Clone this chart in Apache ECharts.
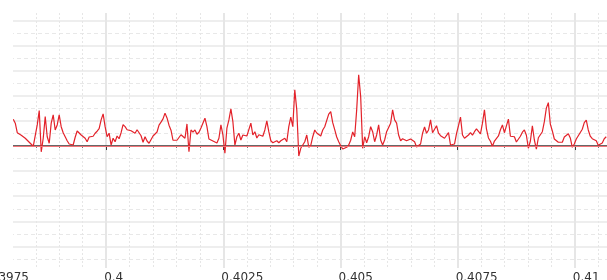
<!DOCTYPE html>
<html>
<head>
<meta charset="utf-8">
<script src="https://cdn.jsdelivr.net/npm/echarts@6/dist/echarts.min.js"></script>
<style>
  html, body { margin: 0; padding: 0; background: #fff; }
  #chart { width: 607px; height: 280px; }
</style>
</head>
<body>
<div id="chart"></div>
<script>
// sampling grid of the trace (x axis units)
const xStart = 0.398018
const xStep = 0.0000426

// trace values, one per sample
const signalValues = [
  1.07, 0.91, 0.53, 0.53, 0.43, 0.39, 0.31, 0.23, 0.15, 0.07,
  -0.01, -0.08, 0.84, 1.41, -0.23, 0.31, 1.17, 0.37, 0.11, 0.91,
  1.24, 0.64, 0.84, 1.24, 0.77, 0.53, 0.37, 0.21, 0.08, 0.01,
  0.04, 0.35, 0.60, 0.59, 0.44, 0.47, 0.31, 0.17, 0.36, 0.39,
  0.39, 0.51, 0.59, 0.69, 1.04, 1.28, 0.77, 0.37, 0.51, 0.04,
  0.31, 0.17, 0.40, 0.29, 0.53, 0.85, 0.77, 0.65, 0.64, 0.61,
  0.64, 0.51, 0.65, 0.67, 0.41, 0.15, 0.37, 0.20, 0.11, 0.16,
  0.40, 0.37, 0.56, 0.83, 0.95, 1.08, 1.31, 1.12, 0.83, 0.63,
  0.23, 0.17, 0.23, 0.25, 0.45, 0.45, 0.31, 0.88, -0.23, 0.64,
  0.55, 0.64, 0.47, 0.55,
  0.72, 0.72, 1.11, 0.77, 0.28, 0.28, 0.20, 0.17, 0.12, 0.31,
  0.84, 0.44, -0.29, 0.71, 1.04, 1.48, 0.97, 0.04, 0.37, 0.51,
  0.24, 0.44, 0.51, 0.40, 0.44, 0.91, 0.44, 0.57, 0.32, 0.45,
  0.49, 0.39, 0.64, 1.00, 0.57, 0.21, 0.13, 0.17, 0.21, 0.13,
  0.21, 0.19, 0.31, 0.17, 0.77, 1.15, 0.77, 2.24, 1.44, -0.40,
  -0.09, -0.08, 0.17, 0.44, -0.05, 0.03, 0.37, 0.64, 0.52, 0.52,
  0.40, 0.64, 0.77, 0.73, 1.27, 1.37, 0.93, 0.65, 0.36, 0.17,
  0.01, -0.12, -0.15, -0.05, 0.04, 0.23, 0.56, 0.37, 1.44, 2.84,
  1.97, -0.09, 0.37, 0.13, 0.37, 0.77, 0.57, 0.17, 0.44, 0.84,
  0.24, 0.04, 0.24, 0.57, 0.51, 0.91, 1.44, 1.04, 0.91, 0.44,
  0.21, 0.29, 0.24, 0.21, 0.25, 0.28, 0.27, 0.17, -0.04, -0.08,
  0.08, 0.51, 0.76, 0.51, 0.64, 1.04, 0.53, 0.51, 0.81, 0.51,
  0.41, 0.40, 0.31, 0.28, 0.53, 0.04, 0.08, 0.08, 0.49, 0.81,
  1.15, 0.44, 0.31, 0.37, 0.44, 0.53, 0.43, 0.57, 0.68, 0.69,
  0.48, 0.91, 1.44, 0.68, 0.32, 0.19, -0.01, 0.20, 0.20, 0.40,
  0.65, 0.84, 0.53, 0.80, 1.07, 0.39, 0.40, 0.37, 0.16, 0.20,
  0.39, 0.55, 0.64, 0.43, -0.09, 0.20, 0.80, 0.24, -0.12, 0.33,
  0.35, 0.57, 0.97, 1.51, 1.73, 0.87, 0.60, 0.28, 0.23, 0.15,
  0.21, 0.15, 0.36, 0.29, 0.49, 0.32, -0.05, 0.08, 0.28, 0.41,
  0.48, 0.67, 0.93, 1.03, 0.64, 0.39, 0.29, 0.25, 0.21, 0.03,
  0.03, 0.12, 0.29, 0.37
]

const baselineValue = 0

// axis ranges
const xMin = 0.3975
const xMax = 0.4125
const xInterval = 0.0025
const yMin = -4.86
const yMax = 5.3

const tracePoints = signalValues.map((value, index) => [xStart + index * xStep, value])

const chart = echarts.init(document.getElementById('chart'))

chart.setOption({
  animation: false,
  backgroundColor: '#fff',
  grid: {
    left: -11,
    right: -85,
    top: 13,
    bottom: 12,
    outerBoundsMode: 'none'
  },
  xAxis: {
    type: 'value',
    min: xMin,
    max: xMax,
    interval: xInterval,
    axisLine: {
      lineStyle: { color: '#3a3a3a', width: 1.5 }
    },
    axisTick: {
      length: 4,
      lineStyle: { color: '#3a3a3a' }
    },
    minorTick: {
      show: true,
      splitNumber: 5,
      length: 2,
      lineStyle: { color: '#777' }
    },
    axisLabel: {
      align: 'left',
      margin: 4,
      fontSize: 12,
      fontFamily: 'DejaVu Sans',
      color: '#333',
      padding: [0, 0, 0, -2]
    },
    splitLine: {
      lineStyle: { color: '#e6e6e6', width: 2 }
    },
    minorSplitLine: {
      show: true,
      lineStyle: { color: '#e6e6e6', width: 1, type: [2, 2] }
    }
  },
  yAxis: [
    {
      type: 'value',
      min: yMin,
      max: yMax,
      splitNumber: 10,
      axisLine: { show: false },
      axisTick: { show: false },
      axisLabel: { show: false },
      splitLine: {
        showMinLine: false,
        showMaxLine: false,
        lineStyle: { color: '#e8e8e8', width: 1.5 }
      }
    },
    {
      // only draws the dashed half-step lines
      type: 'value',
      position: 'left',
      min: yMin + 0.5,
      max: yMax + 0.5,
      splitNumber: 10,
      axisLine: { show: false },
      axisTick: { show: false },
      axisLabel: { show: false },
      splitLine: {
        showMinLine: false,
        showMaxLine: false,
        lineStyle: { color: '#e8e8e8', width: 1, type: [4, 3] }
      }
    }
  ],
  series: [
    {
      type: 'line',
      data: tracePoints,
      showSymbol: false,
      symbol: 'none',
      lineStyle: { color: '#e3222a', width: 1.2 },
      markLine: {
        silent: true,
        symbol: 'none',
        label: { show: false },
        lineStyle: { color: '#f27478', width: 1, type: 'solid' },
        data: [{ yAxis: baselineValue }]
      }
    }
  ],
  graphic: [
    {
      type: 'rect',
      left: 0,
      top: 0,
      z: 100,
      shape: { width: 13, height: 270 },
      style: { fill: '#fff' }
    }
  ]
})
</script>
</body>
</html>
